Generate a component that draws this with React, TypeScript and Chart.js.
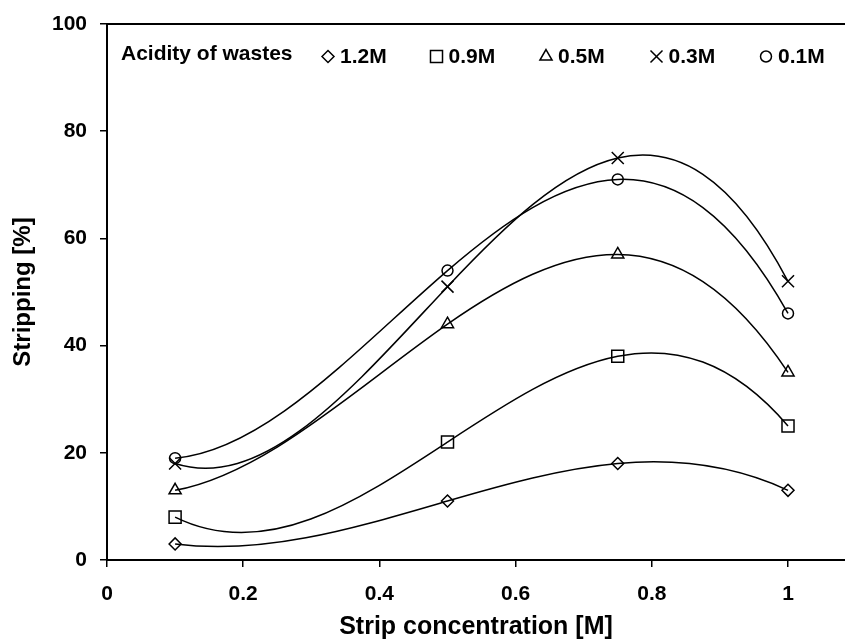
import React, { useEffect, useRef } from 'react';
import { Chart, registerables } from 'chart.js';
import { drawPoint } from 'chart.js/helpers';

Chart.register(...registerables);

// ---- data ----
const xValues = [0.1, 0.5, 0.75, 1.0];
const acid12 = [3, 11, 18, 13];
const acid09 = [8, 22, 38, 25];
const acid05 = [13, 44, 57, 35];
const acid03 = [18, 51, 75, 52];
const acid01 = [19, 54, 71, 46];
const seriesLabels = ['1.2M', '0.9M', '0.5M', '0.3M', '0.1M'];
const xTickValues = [0, 0.2, 0.4, 0.6, 0.8, 1];
const yTickValues = [0, 20, 40, 60, 80, 100];
const legendTitle = 'Acidity of wastes';
const xTitle = 'Strip concentration [M]';
const yTitle = 'Stripping [%]';

const FONT = "'Liberation Sans', Arial, Helvetica, sans-serif";

const styles: { pointStyle: any; radius: number }[] = [
  { pointStyle: 'rectRot', radius: 6 },
  { pointStyle: 'rect', radius: 8.5 },
  { pointStyle: 'triangle', radius: 7 },
  { pointStyle: 'crossRot', radius: 8.5 },
  { pointStyle: 'circle', radius: 5.5 },
];

// Cubic (polynomial) trend through the data points: control points from
// the derivative of the interpolating polynomial at each data point.
const polyTrendPlugin = {
  id: 'polyTrend',
  beforeDatasetDraw(chart: any, args: any) {
    const meta = args.meta;
    const line = meta.dataset;
    const pts = meta.data;
    if (!line || !pts || pts.length < 2) return;
    if (typeof line.updateControlPoints === 'function') {
      line.updateControlPoints(chart.chartArea, 'x');
    }
    const n = pts.length;
    const xs = pts.map((p: any) => p.x);
    const ys = pts.map((p: any) => p.y);
    const d: number[] = [];
    for (let j = 0; j < n; j++) {
      let s = 0;
      for (let i = 0; i < n; i++) {
        if (i === j) {
          let sum = 0;
          for (let k = 0; k < n; k++) if (k !== j) sum += 1 / (xs[j] - xs[k]);
          s += ys[j] * sum;
        } else {
          let prod = 1 / (xs[i] - xs[j]);
          for (let k = 0; k < n; k++) {
            if (k !== i && k !== j) prod *= (xs[j] - xs[k]) / (xs[i] - xs[k]);
          }
          s += ys[i] * prod;
        }
      }
      d.push(s);
    }
    for (let j = 0; j < n; j++) {
      const p = pts[j];
      const hPrev = j > 0 ? xs[j] - xs[j - 1] : 0;
      const hNext = j < n - 1 ? xs[j + 1] - xs[j] : 0;
      p.cp1x = xs[j] - hPrev / 3;
      p.cp1y = ys[j] - (d[j] * hPrev) / 3;
      p.cp2x = xs[j] + hNext / 3;
      p.cp2y = ys[j] + (d[j] * hNext) / 3;
    }
    line._pointsUpdated = true;
    line._path = undefined;
  },
};

const frameLegendPlugin = {
  id: 'frameLegend',
  afterDraw(chart: any) {
    const { ctx, chartArea } = chart;
    ctx.save();
    // top border of plot area
    ctx.strokeStyle = '#000';
    ctx.lineWidth = 2;
    ctx.beginPath();
    ctx.moveTo(chartArea.left, chartArea.top);
    ctx.lineTo(chartArea.right, chartArea.top);
    ctx.stroke();

    // legend
    ctx.fillStyle = '#000';
    ctx.font = `bold 21px ${FONT}`;
    ctx.textAlign = 'left';
    ctx.textBaseline = 'alphabetic';
    ctx.fillText(legendTitle, 121, 60);
    const markerX = [328, 436.5, 546, 656.5, 766];
    chart.data.datasets.forEach((ds: any, i: number) => {
      const mx = markerX[i];
      ctx.save();
      ctx.strokeStyle = '#000';
      ctx.fillStyle = 'rgba(0,0,0,0)';
      ctx.lineWidth = 1.5;
      drawPoint(ctx, { pointStyle: styles[i].pointStyle, radius: styles[i].radius, rotation: 0, borderWidth: 1.5 } as any, mx, 56.5);
      ctx.restore();
      ctx.fillStyle = '#000';
      ctx.fillText(ds.label, mx + 12, 63);
    });
    ctx.restore();
  },
};

export default function App() {
  const ref = useRef<HTMLCanvasElement | null>(null);

  useEffect(() => {
    if (!ref.current) return;
    const allSeries = [acid12, acid09, acid05, acid03, acid01];
    const datasets = allSeries.map((vals, i) => ({
      label: seriesLabels[i],
      data: xValues.map((x, k) => ({ x, y: vals[k] })),
      borderColor: '#000',
      borderWidth: 1.5,
      tension: 0.4,
      fill: false,
      pointStyle: styles[i].pointStyle,
      pointRadius: styles[i].radius,
      pointBorderWidth: 1.5,
      pointBorderColor: '#000',
      pointBackgroundColor: 'rgba(0,0,0,0)',
    }));

    const tickFont = { family: FONT, size: 21, weight: 'bold' as const };
    const titleFont = { family: FONT, size: 25, weight: 'bold' as const, lineHeight: 1 };

    const chart = new Chart(ref.current, {
      type: 'line',
      data: { datasets },
      options: {
        animation: false,
        responsive: false,
        layout: { autoPadding: false, padding: { top: 24, left: 0, right: 0, bottom: 0 } },
        plugins: {
          legend: { display: false },
          tooltip: { enabled: false },
        },
        scales: {
          x: {
            type: 'linear',
            min: 0,
            max: 1.0837,
            afterBuildTicks: (s: any) => {
              s.ticks = xTickValues.map((v) => ({ value: v }));
            },
            afterFit: (s: any) => {
              s.height = 80;
              s.paddingLeft = 0;
              s.paddingRight = 0;
            },
            ticks: {
              callback: (v: any) => String(v),
              font: tickFont,
              color: '#000',
              padding: 15,
              maxRotation: 0,
              autoSkip: false,
            },
            grid: {
              display: true,
              drawOnChartArea: false,
              drawTicks: true,
              tickLength: 7,
              color: '#000',
              lineWidth: 1.5,
            },
            border: { display: true, color: '#000', width: 2 },
            title: {
              display: true,
              text: xTitle,
              font: titleFont,
              color: '#000',
              padding: { top: 0, bottom: 0 },
            },
          },
          y: {
            type: 'linear',
            min: 0,
            max: 100,
            afterBuildTicks: (s: any) => {
              s.ticks = yTickValues.map((v) => ({ value: v }));
            },
            afterFit: (s: any) => {
              s.width = 107;
              s.paddingTop = 0;
              s.paddingBottom = 0;
            },
            ticks: {
              callback: (v: any) => String(v),
              font: tickFont,
              color: '#000',
              padding: 13,
            },
            grid: {
              display: true,
              drawOnChartArea: false,
              drawTicks: true,
              tickLength: 7,
              color: '#000',
              lineWidth: 1.5,
            },
            border: { display: true, color: '#000', width: 2 },
            title: {
              display: true,
              text: yTitle,
              font: { family: FONT, size: 24, weight: 'bold' as const, lineHeight: 1 },
              color: '#000',
              padding: { top: 11, bottom: 0 },
            },
          },
        },
      },
      plugins: [polyTrendPlugin, frameLegendPlugin],
    });
    return () => chart.destroy();
  }, []);

  return (
    <div style={{ position: 'absolute', left: 0, top: 0, width: 845, height: 640, background: '#fff' }}>
      <canvas ref={ref} width={845} height={640} style={{ display: 'block' }} />
    </div>
  );
}
